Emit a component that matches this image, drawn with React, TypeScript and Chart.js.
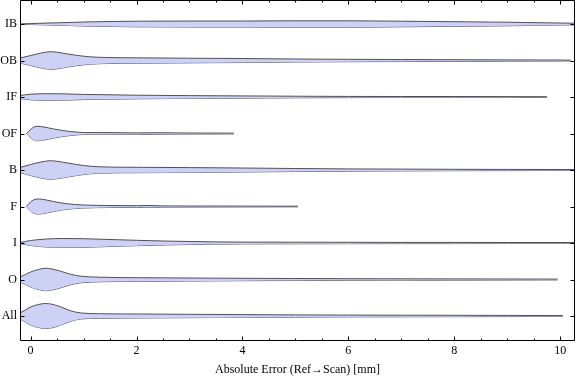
import { useEffect, useRef } from 'react';
import { Chart, registerables } from 'chart.js';

Chart.register(...registerables);

const categories = ['IB', 'OB', 'IF', 'OF', 'B', 'F', 'I', 'O', 'All'];
const xTickValues = [0, 2, 4, 6, 8, 10];
const X_MIN = -0.2;
const X_MAX = 10.28;
const Y_MIN = 0.342;
const Y_MAX = 9.685;
const xTitle = 'Absolute Error (Ref\u2192Scan) [mm]';

// violin outlines: x positions and density (half-width)
const ibX = [-0.2, 0, 0.5, 1, 1.5, 2, 3, 4, 5, 6, 7, 8, 9, 10, 10.3];
const ibD = [0, 0.5, 1.2, 2, 2.5, 2.8, 3, 3, 3.2, 3.2, 2.8, 2.3, 1.8, 1, 0.8];

const obX = [-0.2, 0, 0.2, 0.37, 0.5, 0.7, 1, 1.3, 2, 3, 4, 5, 6, 7, 8, 9, 10, 10.2];
const obD = [2.5, 5, 7.5, 8.8, 8.3, 6.5, 4.3, 3.2, 2.7, 2.3, 2, 1.5, 1.2, 1, 0.8, 0.6, 0.5, 0.3];

const ifX = [-0.2, 0, 0.3, 0.6, 1, 1.5, 2, 3, 4, 5, 6, 7, 8, 9, 9.75];
const ifD = [1.5, 2.8, 3.3, 3.2, 2.6, 2.2, 1.8, 1.4, 1.1, 0.8, 0.6, 0.5, 0.5, 0.4, 0.3];

const ofX = [-0.08, 0, 0.05, 0.12, 0.25, 0.43, 0.6, 0.75, 1, 1.5, 2, 2.4, 3, 3.84];
const ofD = [0, 4, 6, 7.3, 6.5, 4.6, 3, 2, 1, 0.9, 0.6, 0.8, 0.5, 0.4];

const bX = [-0.2, 0, 0.2, 0.37, 0.5, 0.7, 1, 1.3, 2, 3, 4, 5, 6, 7, 8, 9, 10, 10.3];
const bD = [2.5, 5.5, 8, 9.3, 8.7, 7, 4.5, 3.2, 2.7, 2.4, 2, 1.5, 1.1, 0.9, 0.7, 0.6, 0.5, 0.5];

const fX = [-0.08, 0, 0.05, 0.15, 0.3, 0.43, 0.7, 1, 1.5, 2, 2.2, 2.5, 3, 4, 5.05];
const fD = [0, 4.5, 6.5, 7.5, 6.5, 5, 2.7, 1.5, 1, 0.8, 1, 0.6, 0.5, 0.4, 0.3];

const iX = [-0.2, 0, 0.3, 0.6, 1, 1.5, 2, 2.5, 3, 3.5, 4, 5, 6, 7, 8, 9, 10, 10.3];
const iD = [0.5, 2.5, 4, 4.5, 4.3, 3.5, 2.7, 2, 1.5, 1.1, 0.9, 0.8, 0.7, 0.6, 0.6, 0.5, 0.5, 0.5];

const oX = [-0.2, -0.1, 0, 0.15, 0.28, 0.4, 0.55, 0.75, 0.95, 1.3, 2, 3, 4, 5, 6, 7, 8, 9, 9.95];
const oD = [2.5, 5, 7.5, 10, 11.3, 10.5, 8.6, 5.3, 3.3, 2.3, 1.8, 1.5, 1.2, 1, 0.8, 0.7, 0.6, 0.5, 0.4];

const allX = [-0.2, -0.1, 0, 0.15, 0.28, 0.4, 0.55, 0.75, 0.95, 1.3, 2, 3, 4, 5, 6, 7, 8, 9, 10.05];
const allD = [3, 6, 9, 11.5, 12.5, 11.8, 9.5, 5.3, 3, 2.3, 2, 1.7, 1.4, 1.1, 0.9, 0.8, 0.7, 0.6, 0.4];

const violins: [number[], number[]][] = [
  [ibX, ibD], [obX, obD], [ifX, ifD], [ofX, ofD], [bX, bD],
  [fX, fD], [iX, iD], [oX, oD], [allX, allD],
];

const DENSITY_TO_Y = 1 / 36.5;
const FILL = 'rgba(205, 209, 246, 1)';
const EDGE = 'rgba(80, 80, 90, 1)';
const FONT = '"Liberation Serif", "DejaVu Serif", serif';

const framePlugin = {
  id: 'frameTicks',
  afterDraw(chart: any) {
    const { ctx, chartArea: a, scales } = chart;
    const xs = scales.x;
    const ys = scales.y;
    ctx.save();
    ctx.strokeStyle = '#000';
    ctx.lineWidth = 1;
    ctx.beginPath();
    ctx.rect(a.left + 0.5, a.top + 0.5, a.right - a.left - 1, a.bottom - a.top - 1);
    ctx.stroke();
    ctx.beginPath();
    for (let v = Math.ceil(xs.min * 2) / 2; v <= xs.max + 1e-9; v += 0.5) {
      const major = Math.abs(v / 2 - Math.round(v / 2)) < 1e-9;
      const len = major ? 4.5 : 2.5;
      const px = Math.round(xs.getPixelForValue(v)) + 0.5;
      ctx.moveTo(px, a.bottom);
      ctx.lineTo(px, a.bottom - len);
      ctx.moveTo(px, a.top);
      ctx.lineTo(px, a.top + len);
    }
    categories.forEach((_, i) => {
      const py = Math.round(ys.getPixelForValue(i + 1)) + 0.5;
      ctx.moveTo(a.left, py);
      ctx.lineTo(a.left + 4.5, py);
      ctx.moveTo(a.right, py);
      ctx.lineTo(a.right - 4.5, py);
    });
    ctx.stroke();
    ctx.restore();
  },
};

export default function App() {
  const ref = useRef<HTMLCanvasElement | null>(null);
  useEffect(() => {
    if (!ref.current) return;
    const datasets: any[] = [];
    violins.forEach(([xs, ds], i) => {
      const c = i + 1;
      const common = {
        borderColor: EDGE,
        borderWidth: 1,
        pointRadius: 0,
        cubicInterpolationMode: 'monotone',
        backgroundColor: FILL,
      };
      datasets.push({
        ...common,
        data: xs.map((x, k) => ({ x, y: c - ds[k] * DENSITY_TO_Y })),
        fill: '+1',
      });
      datasets.push({
        ...common,
        data: xs.map((x, k) => ({ x, y: c + ds[k] * DENSITY_TO_Y })),
        fill: false,
      });
    });
    const chart = new Chart(ref.current, {
      type: 'line',
      data: { datasets },
      options: {
        animation: false,
        responsive: false,
        layout: { padding: { left: 0, right: 1, top: 0, bottom: 0 } },
        plugins: { legend: { display: false }, tooltip: { enabled: false } },
        scales: {
          x: {
            type: 'linear',
            min: X_MIN,
            max: X_MAX,
            afterBuildTicks: (s: any) => {
              s.ticks = xTickValues.map((v) => ({ value: v }));
            },
            afterFit: (s: any) => {
              s.height = 40;
              s.paddingLeft = 0;
              s.paddingRight = 0;
            },
            grid: { display: false, drawTicks: false },
            border: { display: false },
            ticks: {
              color: '#000',
              padding: 3,
              maxRotation: 0,
              autoSkip: false,
              font: { family: FONT, size: 12 },
              callback: (v: any) => String(v),
            },
            title: {
              display: true,
              text: xTitle,
              color: '#000',
              font: { family: FONT, size: 12 },
              padding: { top: 0, bottom: 4 },
            },
          },
          y: {
            type: 'linear',
            reverse: true,
            min: Y_MIN,
            max: Y_MAX,
            afterBuildTicks: (s: any) => {
              s.ticks = categories.map((_, i) => ({ value: i + 1 }));
            },
            afterFit: (s: any) => {
              s.width = 20;
              s.paddingTop = 0;
              s.paddingBottom = 0;
            },
            grid: { display: false, drawTicks: false },
            border: { display: false },
            ticks: {
              color: '#000',
              padding: 3,
              autoSkip: false,
              font: { family: FONT, size: 12 },
              callback: (v: any) => categories[Math.round(v) - 1] ?? '',
            },
          },
        },
      },
      plugins: [framePlugin],
    } as any);
    return () => chart.destroy();
  }, []);
  return (
    <canvas
      ref={ref}
      width={576}
      height={381}
      style={{ position: 'fixed', left: 0, top: 0, width: 576, height: 381, display: 'block' }}
    />
  );
}
